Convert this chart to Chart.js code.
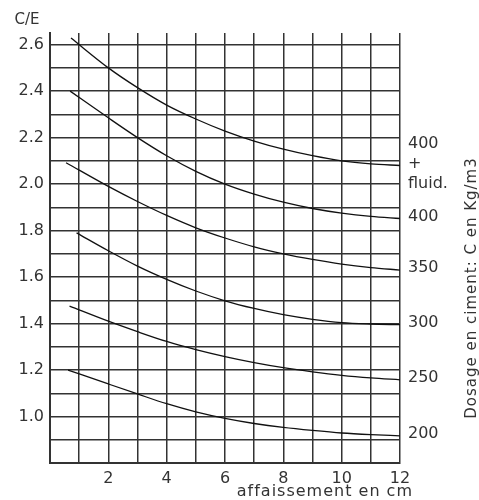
<!DOCTYPE html>
<html>
<head>
<meta charset="utf-8">
<script src="https://cdn.jsdelivr.net/npm/chart.js@4"></script>
<style>
  body { margin: 0; background: #fff; }
  #wrap { width: 479px; height: 500px; }
</style>
</head>
<body>
<div id="wrap"><canvas id="abaque" width="479" height="500"></canvas></div>
<script>

// dosage labels at the right end of each curve
const dosages = ["400\n+\nfluid.", "400", "350", "300", "250", "200"];

// affaissement (cm) for each curve
const slump400f = [0.72, 2, 3, 4, 5, 6, 7, 8, 9, 10, 11, 12];
const slump400  = [0.69, 2, 3, 4, 5, 6, 7, 8, 9, 10, 11, 12];
const slump350  = [0.55, 2, 3, 4, 5, 6, 7, 8, 9, 10, 11, 12];
const slump300  = [0.91, 2, 3, 4, 5, 6, 7, 8, 9, 10, 11, 12];
const slump250  = [0.67, 2, 3, 4, 5, 6, 7, 8, 9, 10, 11, 12];
const slump200  = [0.62, 2, 3, 4, 5, 6, 7, 8, 9, 10, 11, 12];

// C/E values
const ce400f = [2.628, 2.50, 2.415, 2.34, 2.28, 2.228, 2.185, 2.15, 2.122, 2.10, 2.087, 2.08];
const ce400  = [2.40, 2.285, 2.20, 2.122, 2.055, 2.0, 1.957, 1.922, 1.895, 1.875, 1.861, 1.852];
const ce350  = [2.092, 1.99, 1.925, 1.865, 1.812, 1.768, 1.73, 1.70, 1.676, 1.656, 1.641, 1.63];
const ce300  = [1.79, 1.713, 1.647, 1.59, 1.54, 1.498, 1.465, 1.438, 1.418, 1.404, 1.398, 1.395];
const ce250  = [1.475, 1.41, 1.365, 1.323, 1.288, 1.258, 1.232, 1.21, 1.192, 1.177, 1.166, 1.158];
const ce200  = [1.2, 1.14, 1.097, 1.055, 1.02, 0.992, 0.97, 0.953, 0.94, 0.929, 0.922, 0.917];

// y grid every 0.1, labels every 0.2 from 1.0
const yTicks  = [0.8, 0.9, 1.0, 1.1, 1.2, 1.3, 1.4, 1.5, 1.6, 1.7, 1.8, 1.9, 2.0, 2.1, 2.2, 2.3, 2.4, 2.5, 2.6];
const yLabels = ["", "", "1.0", "", "1.2", "", "1.4", "", "1.6", "", "1.8", "", "2.0", "", "2.2", "", "2.4", "", "2.6"];
// x grid every cm, labels every 2 cm
const xLabels = ["", "", "2", "", "4", "", "6", "", "8", "", "10", "", "12"];

const FONT = "'DejaVu Sans', sans-serif";
const INK = "#333";

function pts(xs, ys){
    return xs.map(function(x, i){ return { x: x, y: ys[i] }; });
}

const curves = [
    pts(slump400f, ce400f),
    pts(slump400, ce400),
    pts(slump350, ce350),
    pts(slump300, ce300),
    pts(slump250, ce250),
    pts(slump200, ce200)
];

// -------- Extra texts --------
const textPlugin = {
    id: "abaqueTexts",
    afterDraw: function(chart){
        const ctx = chart.ctx;
        const area = chart.chartArea;
        const yScale = chart.scales.y;
        ctx.save();
        ctx.fillStyle = INK;
        ctx.font = "15px " + FONT;
        ctx.textBaseline = "middle";

        // C/E
        ctx.textAlign = "center";
        ctx.fillText("C/E", 27, 20);

        // dosage labels at curve ends
        ctx.textAlign = "left";
        ctx.font = "16px " + FONT;
        curves.forEach(function(c, i){
            const yEnd = yScale.getPixelForValue(c[c.length - 1].y);
            const lines = dosages[i].split("\n");
            const step = 20;
            const y0 = yEnd - (lines.length - 1) * step / 2 - 2;
            lines.forEach(function(t, k){
                ctx.fillText(t, area.right + 8, y0 + k * step);
            });
        });

        // x title
        ctx.font = "16px " + FONT;
        ctx.letterSpacing = "1px";
        ctx.textAlign = "right";
        ctx.fillText("affaissement en cm", 413, 492);

        // right title
        ctx.font = "15px " + FONT;
        ctx.translate(472, 288);
        ctx.rotate(-Math.PI / 2);
        ctx.textAlign = "center";
        ctx.fillText("Dosage en ciment: C en Kg/m3", 0, 0);
        ctx.restore();
    }
};

window.onload = function(){

    const ctx = document.getElementById("abaque").getContext("2d");

    new Chart(ctx, {
        type: "line",
        data: {
            datasets: curves.map(function(c, i){
                return {
                    label: dosages[i].replace(/\n/g, " "),
                    data: c,
                    borderColor: "#111",
                    borderWidth: 1.3,
                    pointRadius: 0,
                    fill: false,
                    cubicInterpolationMode: "monotone"
                };
            })
        },
        options: {
            responsive: false,
            animation: false,
            layout: { padding: { top: 33, right: 79, left: 0, bottom: 0 } },
            plugins: {
                legend: { display: false },
                tooltip: { enabled: false }
            },
            scales: {
                x: {
                    type: "linear",
                    min: 0,
                    max: 12,
                    afterFit: function(scale){ scale.height = 37; },
                    grid: { color: INK, lineWidth: 1.5, drawTicks: false },
                    border: { color: INK, width: 2 },
                    ticks: {
                        stepSize: 1,
                        padding: 6,
                        color: INK,
                        font: { family: FONT, size: 16 },
                        callback: function(v){ return xLabels[Math.round(v)]; }
                    }
                },
                y: {
                    type: "linear",
                    min: 0.8,
                    max: 2.65,
                    afterFit: function(scale){ scale.width = 50; },
                    afterBuildTicks: function(scale){
                        scale.ticks = yTicks.map(function(v){ return { value: v }; });
                    },
                    grid: { color: INK, lineWidth: 1.5, drawTicks: false },
                    border: { color: INK, width: 2 },
                    ticks: {
                        padding: 6,
                        color: INK,
                        font: { family: FONT, size: 16 },
                        callback: function(v, i){ return yLabels[i]; }
                    }
                }
            }
        },
        plugins: [textPlugin]
    });

};
</script>
</body>
</html>
